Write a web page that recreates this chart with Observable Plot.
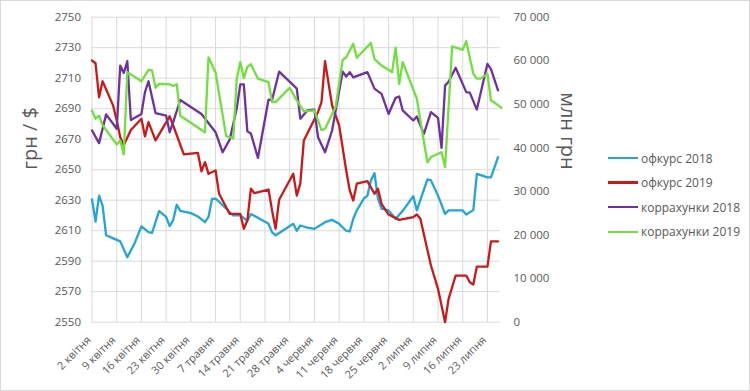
<!DOCTYPE html>
<html>
<head>
<meta charset="utf-8">
<script src="https://cdn.jsdelivr.net/npm/d3@7"></script>
<script src="https://cdn.jsdelivr.net/npm/@observablehq/plot@0.6"></script>
<style>
  html, body { margin: 0; padding: 0; background: #fff; }
  #wrap { position: relative; width: 750px; height: 391px; font-family: "Open Sans", sans-serif; }
  #border { position: absolute; left: 0; top: 0; width: 748px; height: 389px; border: 1px solid #d9d9d9; pointer-events: none; }
  #legend { position: absolute; left: 608px; top: 148px; font-size: 12px; color: #595959; }
  .item { position: absolute; left: 0; white-space: nowrap; display: flex; align-items: center; height: 20px; }
  .sw { display: inline-block; width: 30px; height: 2.5px; margin-right: 3px; }
</style>
</head>
<body>
<div id="wrap"><div id="border"></div><div id="legend"></div></div>
<script>
const xLabels = ["2 квітня","9 квітня","16 квітня","23 квітня","30 квітня","7 травня","14 травня","21 травня","28 травня","4 червня","11 червня","18 червня","25 червня","2 липня","9 липня","16 липня","23 липня"];
const leftTicks = [2550,2570,2590,2610,2630,2650,2670,2690,2710,2730,2750];
const rightTicks = [0,10000,20000,30000,40000,50000,60000,70000];
const seriesNames = ["офкурс 2018","офкурс 2019","коррахунки 2018","коррахунки 2019"];
const seriesColors = ["#22a6d6","#cc1818","#7030a0","#6fe03c"];

// офкурс 2018 (грн / $, left axis)
const rate2018 = [["04-02",2630.5],["04-03",2616],["04-04",2633],["04-05",2626.5],["04-06",2607],["04-08",2605],["04-10",2603],["04-12",2592.6],["04-14",2601.4],["04-16",2612.8],["04-18",2609],["04-19",2608.5],["04-21",2622.8],["04-23",2619],["04-24",2613],["04-25",2617],["04-26",2627],["04-27",2623],["04-30",2621.5],["05-02",2619.3],["05-04",2615.6],["05-05",2619],["05-06",2630.9],["05-07",2631],["05-08",2629],["05-12",2620],["05-14",2620],["05-16",2616.5],["05-17",2621],["05-22",2614.5],["05-23",2609],["05-24",2607],["05-26",2610],["05-29",2614.5],["05-30",2610],["05-31",2613.4],["06-02",2612],["06-04",2611.2],["06-07",2615.6],["06-09",2617.1],["06-11",2614.5],["06-13",2610],["06-14",2609.5],["06-15",2617.8],["06-16",2623.3],["06-18",2631],["06-19",2633],["06-20",2643],["06-21",2647.7],["06-22",2631],["06-23",2624.4],["06-25",2623.3],["06-27",2617.8],["06-29",2623],["07-02",2632.6],["07-03",2623.3],["07-06",2643.6],["07-07",2643],["07-09",2633],["07-11",2621],["07-12",2623.3],["07-16",2623.3],["07-17",2620.6],["07-19",2623.5],["07-20",2647.3],["07-23",2645],["07-24",2645],["07-26",2658.2]];

// офкурс 2019 (грн / $, left axis)
const rate2019 = [["04-02",2721.6],["04-03",2719.8],["04-04",2697.5],["04-05",2708],["04-08",2692],["04-09",2682.3],["04-10",2671.3],["04-11",2666],["04-13",2676],["04-16",2683.4],["04-17",2671.8],["04-18",2681.2],["04-20",2669.2],["04-24",2685],["04-25",2679],["04-28",2660],["05-02",2661],["05-03",2649],["05-04",2655],["05-05",2647.3],["05-07",2649.5],["05-08",2634.2],["05-11",2621],["05-14",2621],["05-15",2611.3],["05-16",2616.7],["05-17",2637.5],["05-18",2634.6],["05-22",2637],["05-23",2623.3],["05-24",2611.3],["05-25",2630.3],["05-29",2647.3],["05-30",2633],["05-31",2641],["06-01",2669.2],["06-05",2687.7],["06-06",2694.3],["06-07",2721.2],["06-09",2692.1],["06-11",2679],["06-13",2649.5],["06-14",2636.4],["06-15",2629.8],["06-16",2640.8],["06-19",2642.5],["06-21",2634.2],["06-22",2637.5],["06-23",2627.6],["06-25",2620.6],["06-28",2617.1],["07-02",2618.9],["07-03",2620.6],["07-04",2617.8],["07-07",2587.2],["07-09",2571.9],["07-11",2550],["07-12",2565.3],["07-14",2580.6],["07-17",2580.6],["07-18",2576.2],["07-19",2574.7],["07-20",2586.5],["07-23",2586.5],["07-24",2603],["07-26",2603]];

// коррахунки 2018 (млн грн, right axis)
const accounts2018 = [["04-02",44000],["04-04",41100],["04-06",47700],["04-09",44400],["04-10",58900],["04-11",57200],["04-12",59900],["04-13",46400],["04-16",47800],["04-17",52800],["04-18",55300],["04-20",48000],["04-23",47400],["04-24",43600],["04-25",45900],["04-27",51000],["05-03",47800],["05-07",43600],["05-09",39000],["05-11",41900],["05-13",49100],["05-14",54600],["05-15",54600],["05-16",43800],["05-17",43300],["05-19",37700],["05-22",51100],["05-23",51000],["05-25",57500],["05-29",54400],["05-30",53600],["05-31",46700],["06-02",48600],["06-04",48800],["06-05",42500],["06-07",39000],["06-09",44000],["06-12",57500],["06-13",56400],["06-14",57400],["06-15",56200],["06-19",57400],["06-21",53600],["06-23",52400],["06-25",47800],["06-27",51500],["06-28",51800],["06-29",48600],["07-02",46300],["07-03",47200],["07-05",43200],["07-07",48200],["07-09",46900],["07-10",40000],["07-11",54300],["07-12",55200],["07-14",58400],["07-17",52800],["07-18",52700],["07-20",48800],["07-23",59300],["07-24",58100],["07-26",53200]];

// коррахунки 2019 (млн грн, right axis)
const accounts2019 = [["04-02",48600],["04-03",46700],["04-04",47400],["04-05",45200],["04-09",40800],["04-10",41700],["04-11",38500],["04-12",57400],["04-16",55300],["04-18",57900],["04-19",57800],["04-20",53800],["04-21",54700],["04-24",54600],["04-25",54200],["04-26",54600],["04-27",47400],["05-04",43600],["05-05",60800],["05-07",57300],["05-10",42700],["05-12",42200],["05-13",55900],["05-14",59700],["05-15",56000],["05-16",58600],["05-17",59200],["05-19",55900],["05-22",55100],["05-23",50500],["05-24",50500],["05-28",53800],["05-30",50900],["06-01",48400],["06-04",48600],["06-06",44100],["06-07",44400],["06-10",49400],["06-12",60200],["06-13",60800],["06-15",63900],["06-16",60700],["06-20",64100],["06-21",60400],["06-23",58900],["06-26",57400],["06-27",63000],["06-28",54700],["06-29",59700],["07-03",51300],["07-04",46300],["07-06",36700],["07-07",37900],["07-10",39000],["07-11",35600],["07-13",63300],["07-16",62500],["07-17",64500],["07-19",57000],["07-20",55900],["07-21",55900],["07-23",57000],["07-24",50900],["07-25",50400],["07-27",49200]];

const base = Date.UTC(2019, 3, 2);
const dayOf = s => (Date.UTC(2019, +s.slice(0, 2) - 1, +s.slice(3)) - base) / 864e5;
// right axis (0..70000) shares the frame with left axis (2550..2750)
const toLeft = v => 2550 + v / 350;
const fromLeft = y => Math.round((y - 2550) * 350);
const fmtR = v => d3.format(",")(v).replace(/,/g, " ");

const leftSeries = [rate2018, rate2019];
const rightSeries = [accounts2018, accounts2019];

const lineMarks = [];
leftSeries.forEach((s, i) => lineMarks.push(Plot.line(s, {x: d => dayOf(d[0]), y: d => d[1], stroke: seriesColors[i], strokeWidth: 2.3, strokeLinejoin: "round"})));
rightSeries.forEach((s, i) => lineMarks.push(Plot.line(s, {x: d => dayOf(d[0]), y: d => toLeft(d[1]), stroke: seriesColors[i + 2], strokeWidth: 2.3, strokeLinejoin: "round"})));

const xTicks = xLabels.map((_, i) => i * 7);

const chart = Plot.plot({
  width: 750,
  height: 391,
  marginLeft: 91.5,
  marginRight: 250,
  marginTop: 16.7,
  marginBottom: 69.3,
  style: {fontFamily: "Open Sans, sans-serif", fontSize: "11.5px", color: "#595959", background: "transparent"},
  x: {type: "linear", domain: [0, 115.7]},
  y: {domain: [2550, 2750]},
  marks: [
    Plot.gridY(leftTicks, {stroke: "#d9d9d9", strokeOpacity: 1, strokeWidth: 1}),
    Plot.gridX(xTicks, {stroke: "#d9d9d9", strokeOpacity: 1, strokeWidth: 1}),
    Plot.axisY(leftTicks, {anchor: "left", tickSize: 0, tickPadding: 11, fill: "#595959", tickFormat: d => String(d), label: null}),
    Plot.axisY(rightTicks.map(toLeft), {anchor: "right", tickSize: 0, tickPadding: 13, textAnchor: "start", fill: "#595959", tickFormat: y => fmtR(fromLeft(y)), label: null}),
    Plot.axisX(xTicks, {anchor: "bottom", tickSize: 0, tickPadding: 6, tickRotate: -45, dx: -3, dy: 10, fontSize: 11, fill: "#595959", tickFormat: d => xLabels[d / 7], label: null}),
    Plot.text(["грн / $"], {frameAnchor: "left", dx: -61, rotate: -90, fontSize: 20, fill: "#595959", text: d => d}),
    Plot.text(["млн грн"], {frameAnchor: "right", dx: 67, rotate: 90, fontSize: 20, fill: "#595959", text: d => d}),
    ...lineMarks
  ]
});
document.getElementById("wrap").prepend(chart);

const legend = document.getElementById("legend");
seriesNames.forEach((n, i) => {
  const it = document.createElement("div");
  it.className = "item";
  it.style.top = (i * 24.6) + "px";
  it.innerHTML = `<span class="sw" style="background:${seriesColors[i]}"></span><span>${n}</span>`;
  legend.appendChild(it);
});
</script>
</body>
</html>
